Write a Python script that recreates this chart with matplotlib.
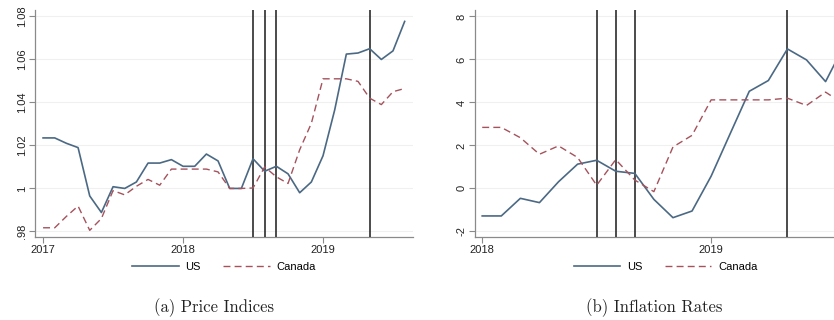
import matplotlib
matplotlib.use("Agg")
import matplotlib.pyplot as plt
import pandas as pd

plt.rcParams["font.family"] = ["Liberation Sans", "DejaVu Sans"]

# monthly series, price indices start 2017m1, inflation rates start 2018m1
price_months = pd.period_range("2017-01", "2019-08", freq="M")
price_us = [1.0235, 1.0235, 1.021, 1.019, 0.9965, 0.9888, 1.0008, 1.0000,
            1.0030, 1.0118, 1.0118, 1.0134, 1.0103, 1.0103, 1.0160, 1.0128,
            1.0000, 1.0000, 1.0138, 1.0080, 1.0103, 1.0068, 0.9980, 1.0030,
            1.0152, 1.0365, 1.0625, 1.0630, 1.0650, 1.0600, 1.0640, 1.0777]
price_ca = [0.9817, 0.9817, 0.9870, 0.9918, 0.9805, 0.9860, 0.9990, 0.9970,
            1.0010, 1.0042, 1.0015, 1.0090, 1.0090, 1.0090, 1.0090, 1.0077,
            1.0000, 1.0000, 1.0002, 1.0100, 1.0054, 1.0023, 1.0180, 1.0303,
            1.0510, 1.0510, 1.0510, 1.0498, 1.0420, 1.0390, 1.0450, 1.0465]

infl_months = pd.period_range("2018-01", "2019-08", freq="M")
infl_us = [-1.28, -1.28, -0.46, -0.66, 0.31, 1.13, 1.31, 0.80, 0.70, -0.51,
           -1.36, -1.05, 0.57, 2.55, 4.52, 5.02, 6.49, 5.98, 4.97, 6.70]
infl_ca = [2.84, 2.84, 2.36, 1.59, 1.98, 1.44, 0.15, 1.34, 0.39, -0.15,
           1.93, 2.47, 4.12, 4.12, 4.12, 4.12, 4.20, 3.86, 4.48, 3.90]

# tariff announcement months
event_months = pd.PeriodIndex(["2018-07", "2018-08", "2018-09", "2019-05"], freq="M")

price_ticks = [0.98, 1.00, 1.02, 1.04, 1.06, 1.08]
price_tick_labels = [".98", "1", "1.02", "1.04", "1.06", "1.08"]
infl_ticks = [-2, 0, 2, 4, 6, 8]
infl_tick_labels = ["-2", "0", "2", "4", "6", "8"]

US_COLOR = "#4b6984"
CA_COLOR = "#a5525c"
AXIS_GREY = "#8a8a8a"


def to_year(months):
    return [p.year + (p.month - 1) / 12 for p in months]


def panel(ax, months, us, ca, xlim, ylim, yticks, ylabels, year_ticks, caption, cap_x):
    x = to_year(months)
    for v in to_year(event_months):
        ax.axvline(v, color="#1a1a1a", linewidth=1.1, zorder=3)
    ax.plot(x, us, color=US_COLOR, linewidth=1.2, label="US", zorder=4)
    ax.plot(x, ca, color=CA_COLOR, linewidth=1.0, dashes=(5, 3), label="Canada", zorder=4)

    ax.set_xlim(*xlim)
    ax.set_ylim(*ylim)
    ax.set_yticks(yticks)
    ax.set_yticklabels(ylabels, rotation=90, va="center")
    ax.set_xticks(year_ticks)
    ax.set_xticklabels([str(y) for y in year_ticks])
    ax.grid(axis="y", color="#f0f0f0", linewidth=0.8)
    ax.set_axisbelow(True)
    for s in ("top", "right"):
        ax.spines[s].set_visible(False)
    for s in ("left", "bottom"):
        ax.spines[s].set_color(AXIS_GREY)
        ax.spines[s].set_linewidth(0.9)
    ax.tick_params(direction="out", length=4, width=0.8, color=AXIS_GREY,
                   labelsize=8, pad=2, labelcolor="#222222")

    ax.legend(loc="center", bbox_to_anchor=(0.5, -0.13), ncol=2, frameon=False,
              fontsize=8, handlelength=4.2, columnspacing=2.0, handletextpad=0.6)
    ax.figure.text(cap_x, 0.04, caption, ha="center", va="center",
                   fontsize=12, family="cmr10", color="#222222")


fig = plt.figure(figsize=(8.34, 3.2), dpi=100)
fig.patch.set_facecolor("white")

ax1 = fig.add_axes([0.042, 0.259, 0.453, 0.709])
panel(ax1, price_months, price_us, price_ca,
      xlim=(2017 - 0.69 / 12, 2017 + 31.7 / 12), ylim=(0.97735, 1.0829),
      yticks=price_ticks, ylabels=price_tick_labels, year_ticks=[2017, 2018, 2019],
      caption="(a) Price Indices", cap_x=214 / 834)

# right panel runs past the figure's right edge
ax2 = fig.add_axes([0.5695, 0.259, 0.457, 0.709])
panel(ax2, infl_months, infl_us, infl_ca,
      xlim=(2018 - 0.38 / 12, 2018 + 19.6 / 12), ylim=(-2.265, 8.29),
      yticks=infl_ticks, ylabels=infl_tick_labels, year_ticks=[2018, 2019],
      caption="(b) Inflation Rates", cap_x=654 / 834)

fig.savefig("out.png", dpi=100)
